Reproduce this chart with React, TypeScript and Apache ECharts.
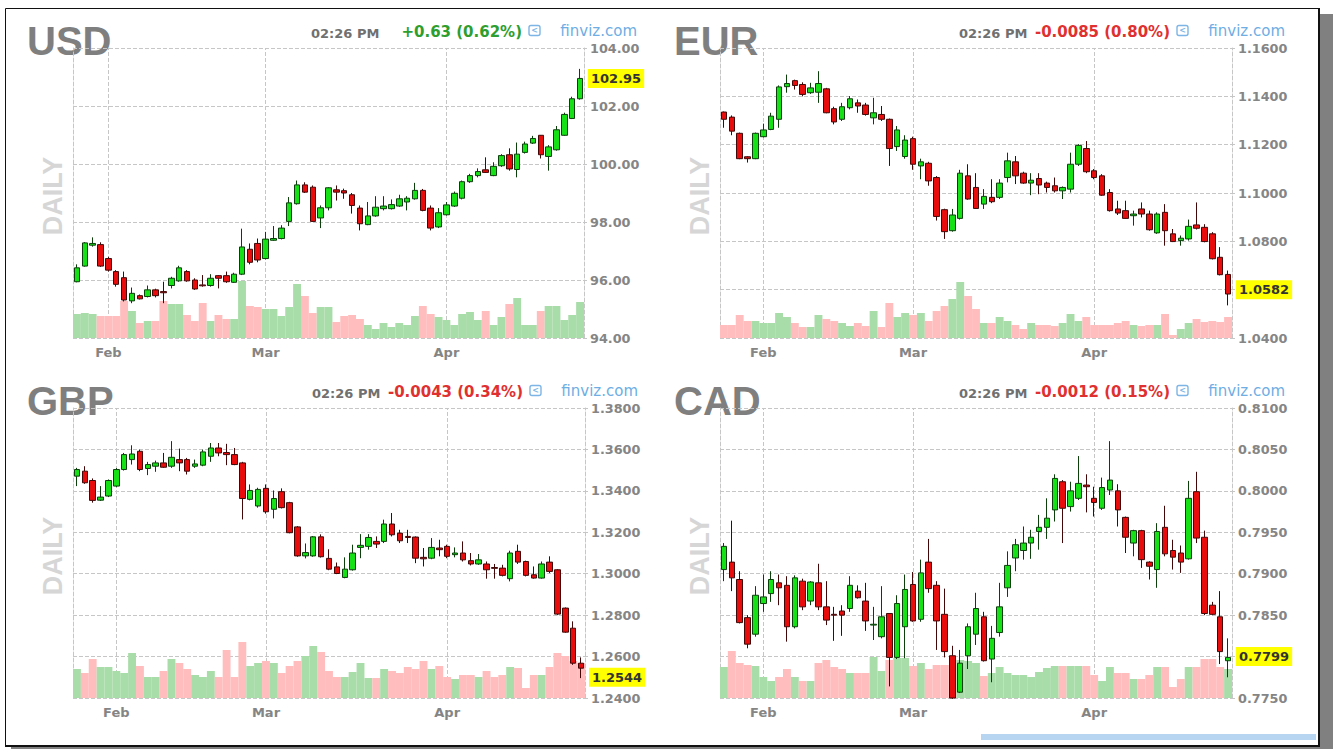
import React, { useEffect, useRef } from "react";
import * as echarts from "echarts";

// ---------- categories ----------
const MONTHS = ["Jan", "Feb", "Mar", "Apr", "May", "Jun", "Jul", "Aug", "Sep", "Oct", "Nov", "Dec"];

function tradingDays(start: string, end: string, skip: string[]): string[] {
  const out: string[] = [];
  const d = new Date(start + "T00:00:00Z");
  const e = new Date(end + "T00:00:00Z");
  while (d <= e) {
    const wd = d.getUTCDay();
    const s = d.toISOString().slice(0, 10);
    if (wd !== 0 && wd !== 6 && !skip.includes(s)) out.push(s);
    d.setUTCDate(d.getUTCDate() + 1);
  }
  return out;
}
const usdDays = tradingDays("2022-01-26", "2022-04-26", []);
const fxDays = tradingDays("2022-01-25", "2022-04-26", ["2022-02-21"]);

// ---------- data: [open, high, low, close] ----------
const usdOHLC = [
  [95.94, 96.54, 95.92, 96.42], [96.48, 97.31, 96.46, 97.28], [97.2, 97.47, 97.15, 97.26], [97.22, 97.3, 96.45, 96.48],
  [96.74, 96.8, 96.29, 96.34], [96.29, 96.34, 95.77, 95.85], [96.08, 96.29, 95.26, 95.31], [95.28, 95.74, 95.2, 95.54],
  [95.46, 95.5, 95.33, 95.35], [95.43, 95.81, 95.4, 95.66], [95.66, 95.7, 95.4, 95.46], [95.6, 95.94, 95.2, 95.56],
  [95.81, 96.11, 95.71, 96.06], [95.97, 96.49, 95.94, 96.42], [96.29, 96.34, 95.94, 95.97], [96.0, 96.06, 95.66, 95.69],
  [95.83, 96.17, 95.77, 95.8], [95.81, 96.2, 95.77, 96.06], [96.15, 96.17, 95.71, 96.06], [96.15, 96.29, 95.9, 95.94],
  [95.92, 96.25, 95.9, 96.2], [96.2, 97.77, 96.17, 97.14], [97.06, 97.26, 96.54, 96.61], [97.26, 97.43, 96.61, 96.69],
  [96.74, 97.66, 96.71, 97.41], [97.37, 97.86, 97.35, 97.43], [97.43, 97.89, 97.4, 97.79], [98.02, 98.86, 97.86, 98.66],
  [98.63, 99.43, 98.6, 99.28], [99.28, 99.37, 99.0, 99.03], [99.2, 99.26, 98.0, 98.02], [98.14, 98.57, 97.79, 98.49],
  [98.49, 99.2, 98.4, 99.18], [99.11, 99.26, 98.74, 99.03], [99.08, 99.15, 98.8, 99.0], [98.94, 99.0, 98.29, 98.57],
  [98.48, 98.57, 97.71, 97.94], [97.91, 98.69, 97.89, 98.21], [98.21, 98.89, 98.18, 98.51], [98.46, 98.89, 98.4, 98.55],
  [98.46, 98.78, 98.43, 98.6], [98.55, 98.94, 98.52, 98.8], [98.69, 98.89, 98.4, 98.82], [98.8, 99.35, 98.77, 99.09],
  [99.09, 99.14, 98.37, 98.4], [98.48, 98.57, 97.71, 97.79], [97.83, 98.48, 97.79, 98.32], [98.25, 98.69, 98.22, 98.59],
  [98.55, 99.05, 98.52, 98.99], [98.82, 99.43, 98.78, 99.39], [99.39, 99.66, 99.35, 99.6], [99.6, 99.85, 99.54, 99.74],
  [99.8, 100.23, 99.69, 99.71], [99.6, 100.06, 99.58, 99.92], [99.94, 100.34, 99.9, 100.29], [100.32, 100.54, 99.77, 99.83],
  [99.81, 100.74, 99.54, 100.34], [100.4, 100.77, 100.36, 100.69], [100.72, 100.97, 100.69, 100.88], [100.99, 101.0, 100.19, 100.32],
  [100.26, 100.65, 99.77, 100.59], [100.49, 101.31, 100.46, 101.18], [100.99, 101.77, 100.97, 101.71], [101.57, 102.32, 101.55, 102.25],
  [102.25, 103.28, 102.22, 102.95],
];
const usdVol = [
  24, 25, 24, 22, 22, 22, 37, 27, 15, 17, 17, 37, 34, 34, 23, 17, 35, 17, 23, 19, 19, 57, 32, 31, 29, 29, 22, 31, 54, 42, 25, 31, 31, 16, 22,
  23, 19, 13, 9, 15, 11, 15, 13, 22, 32, 24, 21, 18, 13, 24, 26, 18, 27, 13, 21, 34, 40, 13, 13, 27, 32, 32, 18, 23, 36,
];

const eurOHLC = [
  [1.1335, 1.1337, 1.127, 1.1305], [1.1314, 1.1321, 1.1239, 1.1256], [1.1247, 1.125, 1.114, 1.1142], [1.115, 1.1152, 1.1126, 1.1142],
  [1.1142, 1.125, 1.114, 1.1247], [1.1233, 1.1287, 1.123, 1.1261], [1.1263, 1.1332, 1.126, 1.1318], [1.1305, 1.1445, 1.127, 1.1439],
  [1.144, 1.149, 1.1415, 1.1453], [1.1465, 1.1469, 1.1428, 1.1445], [1.1449, 1.1458, 1.14, 1.1408], [1.1415, 1.1456, 1.141, 1.1435],
  [1.1417, 1.1504, 1.1373, 1.1453], [1.1431, 1.1435, 1.133, 1.1332], [1.1349, 1.1357, 1.1284, 1.1294], [1.1305, 1.1373, 1.1298, 1.1357],
  [1.1353, 1.1401, 1.1346, 1.139], [1.1373, 1.1387, 1.1332, 1.136], [1.1364, 1.1373, 1.132, 1.1325], [1.1311, 1.1394, 1.1284, 1.1332],
  [1.1325, 1.136, 1.1298, 1.1305], [1.1305, 1.1308, 1.1112, 1.1184], [1.1192, 1.1277, 1.1174, 1.1261], [1.1151, 1.1239, 1.1142, 1.1219],
  [1.1225, 1.1233, 1.1096, 1.1119], [1.1112, 1.1142, 1.1057, 1.1129], [1.1123, 1.1129, 1.103, 1.105], [1.1064, 1.107, 1.0886, 1.0903],
  [1.0931, 1.0935, 1.081, 1.084], [1.0844, 1.0934, 1.084, 1.0909], [1.0895, 1.1096, 1.089, 1.1082], [1.1071, 1.1119, 1.0972, 1.0975],
  [1.1023, 1.1082, 1.0934, 1.0936], [1.0954, 1.1016, 1.0934, 1.0986], [1.0982, 1.1057, 1.0958, 1.0964], [1.0982, 1.1057, 1.0975, 1.1041],
  [1.1064, 1.1167, 1.1044, 1.1133], [1.1129, 1.1153, 1.1037, 1.1071], [1.1082, 1.1088, 1.1038, 1.1041], [1.1041, 1.1082, 1.0991, 1.1053],
  [1.106, 1.1082, 1.0995, 1.1033], [1.1041, 1.1047, 1.1002, 1.1023], [1.103, 1.1064, 1.1002, 1.1009], [1.1009, 1.1027, 1.0975, 1.1023],
  [1.1016, 1.1167, 1.1002, 1.1119], [1.1119, 1.1202, 1.1112, 1.1197], [1.1184, 1.1215, 1.1082, 1.1088], [1.1092, 1.1099, 1.1057, 1.1064],
  [1.1071, 1.1078, 1.0988, 1.0991], [1.1002, 1.1016, 1.0923, 1.0927], [1.0934, 1.0968, 1.0909, 1.0917], [1.0927, 1.0968, 1.0893, 1.0895],
  [1.0906, 1.0927, 1.0865, 1.0913], [1.0934, 1.0961, 1.0899, 1.0913], [1.0913, 1.0927, 1.0844, 1.0848], [1.0835, 1.092, 1.0831, 1.0913],
  [1.092, 1.0954, 1.0782, 1.0844], [1.0831, 1.0851, 1.0797, 1.0799], [1.0803, 1.0824, 1.0782, 1.0813], [1.081, 1.089, 1.0803, 1.0862],
  [1.0868, 1.0961, 1.0849, 1.0854], [1.0858, 1.0871, 1.0796, 1.0799], [1.0831, 1.0838, 1.0725, 1.0728], [1.0734, 1.0776, 1.0659, 1.0662],
  [1.0663, 1.0679, 1.0535, 1.0582],
];
const eurVol = [
  13, 13, 23, 17, 17, 15, 15, 25, 21, 15, 11, 11, 23, 19, 17, 15, 12, 15, 12, 27, 11, 35, 21, 25, 23, 25, 17, 27, 32, 39, 56, 42, 29, 15, 15,
  21, 17, 13, 9, 15, 13, 13, 12, 15, 24, 17, 21, 13, 13, 13, 15, 17, 13, 12, 13, 13, 24, 3, 9, 15, 19, 16, 17, 16, 21,
];

const gbpOHLC = [
  [1.3471, 1.3511, 1.3423, 1.3503], [1.3495, 1.3519, 1.3434, 1.3439], [1.345, 1.346, 1.3343, 1.3354], [1.3355, 1.3423, 1.3351, 1.337],
  [1.3375, 1.3455, 1.337, 1.345], [1.3423, 1.351, 1.3418, 1.3503], [1.3503, 1.3583, 1.3498, 1.3575], [1.3551, 1.362, 1.3527, 1.3578],
  [1.3591, 1.3599, 1.3495, 1.3503], [1.3508, 1.354, 1.3476, 1.3527], [1.3519, 1.3546, 1.3492, 1.3535], [1.3535, 1.3583, 1.3511, 1.3514],
  [1.3519, 1.364, 1.3511, 1.3562], [1.3551, 1.3604, 1.3495, 1.3535], [1.3551, 1.3559, 1.3479, 1.3495], [1.3519, 1.3551, 1.3511, 1.353],
  [1.3524, 1.3599, 1.3519, 1.3588], [1.3567, 1.3631, 1.354, 1.3607], [1.3607, 1.3631, 1.3567, 1.3583], [1.3585, 1.3627, 1.3524, 1.3575],
  [1.3575, 1.3607, 1.3524, 1.3527], [1.3535, 1.354, 1.3262, 1.3363], [1.3359, 1.3431, 1.3354, 1.3402], [1.3327, 1.3415, 1.3319, 1.3407],
  [1.3412, 1.3431, 1.329, 1.3299], [1.3311, 1.3402, 1.3267, 1.3363], [1.3396, 1.3412, 1.3315, 1.3319], [1.3343, 1.3347, 1.3195, 1.3198],
  [1.3226, 1.323, 1.3082, 1.3086], [1.3086, 1.3146, 1.3074, 1.3102], [1.3086, 1.3182, 1.3082, 1.3178], [1.3178, 1.319, 1.3078, 1.3082],
  [1.3074, 1.3118, 1.3017, 1.3022], [1.3033, 1.3054, 1.2998, 1.3001], [1.2982, 1.3079, 1.2978, 1.3022], [1.3019, 1.314, 1.3015, 1.31],
  [1.3127, 1.3191, 1.3075, 1.3137], [1.3132, 1.3191, 1.3116, 1.3175], [1.3156, 1.318, 1.3124, 1.3143], [1.3156, 1.3261, 1.3148, 1.324],
  [1.324, 1.3293, 1.318, 1.3188], [1.3196, 1.3212, 1.3148, 1.3159], [1.318, 1.3212, 1.3148, 1.3175], [1.3177, 1.318, 1.3051, 1.3075],
  [1.3079, 1.3124, 1.3035, 1.3072], [1.3075, 1.3172, 1.307, 1.3127], [1.3124, 1.3164, 1.3084, 1.3116], [1.3132, 1.314, 1.3075, 1.3084],
  [1.3092, 1.3127, 1.3079, 1.31], [1.31, 1.3156, 1.3059, 1.3067], [1.3063, 1.31, 1.304, 1.3047], [1.3047, 1.3095, 1.3043, 1.3067],
  [1.3047, 1.3059, 1.2976, 1.3019], [1.303, 1.3047, 1.2976, 1.3026], [1.3027, 1.3043, 1.2987, 1.2992], [1.2976, 1.3111, 1.2963, 1.31],
  [1.3108, 1.314, 1.3047, 1.3056], [1.3059, 1.3063, 1.2987, 1.2992], [1.2995, 1.3035, 1.2976, 1.2979], [1.2979, 1.3059, 1.2976, 1.3047],
  [1.3056, 1.3084, 1.3003, 1.3011], [1.3019, 1.3022, 1.28, 1.2805], [1.2834, 1.2837, 1.2715, 1.2718], [1.2737, 1.277, 1.256, 1.2568],
  [1.2568, 1.2596, 1.2496, 1.2544],
];
const gbpVol = [
  29, 25, 39, 31, 31, 27, 25, 45, 32, 21, 21, 27, 39, 35, 29, 23, 21, 27, 21, 48, 21, 56, 32, 35, 37, 35, 25, 32, 37, 42, 52, 46, 27, 21, 21,
  26, 35, 20, 20, 29, 27, 25, 31, 29, 37, 29, 32, 21, 19, 23, 23, 21, 27, 21, 23, 31, 30, 10, 23, 23, 31, 45, 42, 37, 35,
];

const cadOHLC = [
  [0.7905, 0.7937, 0.7891, 0.7933], [0.7914, 0.7964, 0.7879, 0.7895], [0.7893, 0.7903, 0.784, 0.7841], [0.7847, 0.785, 0.781, 0.7815],
  [0.7827, 0.7885, 0.7824, 0.7874], [0.7864, 0.7899, 0.7854, 0.7872], [0.7876, 0.7903, 0.7866, 0.7893], [0.7889, 0.7899, 0.7862, 0.7883],
  [0.7886, 0.7897, 0.7818, 0.7836], [0.7836, 0.7898, 0.7834, 0.7895], [0.7891, 0.7894, 0.7856, 0.786], [0.7867, 0.7891, 0.7862, 0.789],
  [0.7889, 0.7912, 0.7856, 0.786], [0.786, 0.7891, 0.7838, 0.7844], [0.7851, 0.786, 0.7819, 0.785], [0.7855, 0.7862, 0.7825, 0.785],
  [0.7858, 0.7897, 0.7854, 0.7886], [0.7879, 0.7886, 0.787, 0.7871], [0.7867, 0.7889, 0.7831, 0.7843], [0.7838, 0.786, 0.782, 0.7839],
  [0.7824, 0.7885, 0.7822, 0.7848], [0.7852, 0.7852, 0.7764, 0.7799], [0.7799, 0.7874, 0.7797, 0.7864], [0.7836, 0.7899, 0.7798, 0.7881],
  [0.7887, 0.7902, 0.7842, 0.7843], [0.7845, 0.7917, 0.7842, 0.7901], [0.7914, 0.7942, 0.7877, 0.7882], [0.7886, 0.7891, 0.7808, 0.7843],
  [0.7851, 0.7882, 0.7799, 0.7806], [0.7801, 0.7813, 0.7749, 0.775], [0.7757, 0.7808, 0.7756, 0.7792], [0.7801, 0.784, 0.7785, 0.7836],
  [0.7827, 0.7877, 0.7814, 0.7858], [0.7848, 0.7854, 0.7794, 0.7795], [0.7797, 0.7837, 0.7769, 0.7822], [0.7829, 0.7889, 0.7824, 0.786],
  [0.7883, 0.7927, 0.7872, 0.791], [0.7919, 0.7942, 0.7903, 0.7935], [0.7928, 0.7957, 0.7917, 0.7937], [0.7937, 0.7953, 0.7918, 0.7944],
  [0.7951, 0.7971, 0.7929, 0.7956], [0.7956, 0.7991, 0.7942, 0.7967], [0.7977, 0.802, 0.7963, 0.8015], [0.8011, 0.8013, 0.7937, 0.7979],
  [0.7981, 0.8011, 0.7975, 0.8], [0.7991, 0.8042, 0.7989, 0.8009], [0.8007, 0.802, 0.7974, 0.8005], [0.7991, 0.8005, 0.7969, 0.7986],
  [0.7979, 0.8016, 0.7977, 0.8004], [0.8001, 0.806, 0.7995, 0.8013], [0.8, 0.8008, 0.7957, 0.7977], [0.7968, 0.7969, 0.7925, 0.7944],
  [0.7937, 0.7953, 0.7921, 0.7952], [0.7952, 0.7953, 0.7907, 0.7917], [0.7914, 0.7915, 0.7893, 0.7909], [0.7905, 0.7961, 0.7883, 0.7951],
  [0.7956, 0.7982, 0.7921, 0.7924], [0.7928, 0.7941, 0.7905, 0.792], [0.7925, 0.7934, 0.7901, 0.7914], [0.7918, 0.8012, 0.7917, 0.7991],
  [0.7999, 0.8023, 0.7937, 0.7943], [0.7944, 0.7952, 0.785, 0.7852], [0.7862, 0.7866, 0.785, 0.7851], [0.7848, 0.7879, 0.7791, 0.7806],
  [0.7795, 0.7822, 0.7775, 0.7799],
];
const cadVol = [
  31, 47, 35, 33, 32, 21, 17, 21, 29, 21, 17, 17, 35, 38, 31, 29, 25, 25, 25, 41, 27, 38, 40, 40, 32, 35, 29, 33, 33, 33, 38, 37, 35, 22,
  25, 31, 25, 23, 23, 21, 26, 30, 32, 32, 32, 32, 32, 23, 17, 31, 25, 25, 19, 19, 23, 31, 31, 11, 19, 31, 31, 39, 39, 31, 29,
];

// ---------- layout ----------
const PANELS = [
  { title: "USD", days: usdDays, ohlc: usdOHLC, vol: usdVol, min: 94, max: 104, step: 2, dec: 2, change: "+0.63 (0.62%)", up: true, left: 73, top: 48, width: 511 },
  { title: "EUR", days: fxDays, ohlc: eurOHLC, vol: eurVol, min: 1.04, max: 1.16, step: 0.02, dec: 4, change: "-0.0085 (0.80%)", up: false, left: 720, top: 48, width: 512 },
  { title: "GBP", days: fxDays, ohlc: gbpOHLC, vol: gbpVol, min: 1.24, max: 1.38, step: 0.02, dec: 4, change: "-0.0043 (0.34%)", up: false, left: 73, top: 408, width: 512 },
  { title: "CAD", days: fxDays, ohlc: cadOHLC, vol: cadVol, min: 0.775, max: 0.81, step: 0.005, dec: 4, change: "-0.0012 (0.15%)", up: false, left: 720, top: 408, width: 512 },
];
const PLOT_H = 290;
const GRID_COLOR = "#c6c6c6";
const AXIS_TEXT = "#858585";
const SANS = "DejaVu Sans";
const ARIAL = "Liberation Sans";

function monthStarts(days: string[]): number[] {
  const r: number[] = [];
  for (let k = 1; k < days.length; k++) if (days[k].slice(5, 7) !== days[k - 1].slice(5, 7)) r.push(k);
  return r;
}

function buildOption() {
  const grid: any[] = [];
  const xAxis: any[] = [];
  const yAxis: any[] = [];
  const series: any[] = [];
  const graphic: any[] = [];

  // frame + shadow
  graphic.push({ type: "rect", silent: true, shape: { x: 1320, y: 14, width: 13, height: 735 }, style: { fill: "#808080" } });
  graphic.push({ type: "rect", silent: true, shape: { x: 11, y: 747, width: 1322, height: 2 }, style: { fill: "#808080" } });
  graphic.push({ type: "rect", silent: true, shape: { x: 5.5, y: 8.5, width: 1313, height: 737 }, style: { fill: "none", stroke: "#111", lineWidth: 1 } });
  graphic.push({ type: "line", silent: true, shape: { x1: 1319, y1: 8, x2: 1319, y2: 747 }, style: { stroke: "#111", lineWidth: 2 } });
  graphic.push({ type: "line", silent: true, shape: { x1: 5, y1: 746, x2: 1320, y2: 746 }, style: { stroke: "#111", lineWidth: 2 } });
  graphic.push({ type: "rect", silent: true, shape: { x: 981, y: 734, width: 335, height: 6 }, style: { fill: "#b7d5f0" } });

  PANELS.forEach((p, i) => {
    const R = p.left + p.width;
    const starts = monthStarts(p.days);
    grid.push({ left: p.left, top: p.top, width: p.width, height: PLOT_H, containLabel: false });
    xAxis.push({
      gridIndex: i,
      type: "category",
      data: p.days,
      boundaryGap: true,
      axisLine: { show: false },
      axisTick: { show: false },
      splitLine: { show: false },
      axisLabel: {
        interval: (idx: number) => starts.includes(idx),
        formatter: (v: string) => MONTHS[Number(v.slice(5, 7)) - 1],
        color: AXIS_TEXT,
        fontFamily: SANS,
        fontWeight: "bold",
        fontSize: 13,
        margin: 8,
      },
    });
    yAxis.push({
      gridIndex: i,
      type: "value",
      position: "right",
      min: p.min,
      max: p.max,
      interval: p.step,
      axisLine: { show: true, lineStyle: { color: GRID_COLOR, type: "dashed" } },
      axisTick: { show: true, length: 3, lineStyle: { color: GRID_COLOR } },
      axisLabel: {
        formatter: (v: number) => v.toFixed(p.dec),
        color: AXIS_TEXT,
        fontFamily: SANS,
        fontWeight: "bold",
        fontSize: 12.8,
        margin: 6,
      },
      splitLine: { show: true, lineStyle: { color: GRID_COLOR, type: "dashed" } },
    });
    yAxis.push({
      gridIndex: i,
      type: "value",
      position: "left",
      min: 0,
      max: PLOT_H,
      axisLine: { show: true, lineStyle: { color: GRID_COLOR, type: "dashed" } },
      axisTick: { show: false },
      axisLabel: { show: false },
      splitLine: { show: false },
    });

    const last = p.ohlc[p.ohlc.length - 1][3];
    series.push({
      type: "bar",
      name: p.title + " volume",
      xAxisIndex: i,
      yAxisIndex: 2 * i + 1,
      barCategoryGap: "0%",
      z: 2,
      data: p.vol.map((v, j) => ({
        value: v,
        itemStyle: { color: p.ohlc[j][3] >= p.ohlc[j][0] ? "#a8dca8" : "#ffbdbd" },
      })),
      markLine: {
        silent: true,
        symbol: "none",
        z: 1,
        label: { show: false },
        lineStyle: { color: GRID_COLOR, type: "dashed", width: 1 },
        data: starts.map((k) => ({ xAxis: p.days[k] })),
      },
    });
    series.push({
      type: "candlestick",
      name: p.title,
      xAxisIndex: i,
      yAxisIndex: 2 * i,
      barWidth: 6,
      z: 3,
      data: p.ohlc.map(([o, h, l, c]) => [o, c, l, h]),
      itemStyle: {
        color: "#16e016",
        color0: "#e80c0c",
        borderColor: "#0b3f0b",
        borderColor0: "#420808",
        borderWidth: 1,
      },
      markLine: {
        silent: true,
        symbol: "none",
        lineStyle: { color: "rgba(0,0,0,0)", width: 1, type: "solid" },
        label: {
          show: true,
          position: "end",
          distance: 4,
          formatter: () => last.toFixed(p.dec),
          backgroundColor: "#ffff00",
          color: "#333333",
          fontFamily: SANS,
          fontWeight: "bold",
          fontSize: 13,
          padding: [3, 3, 3, 3],
        },
        data: [{ yAxis: last }],
      },
    });

    // texts
    const dy = p.top - 48;
    graphic.push({
      type: "text", silent: true, x: p.left - 46, y: 41 + dy,
      style: { text: p.title, fill: "#7f7f7f", fontFamily: ARIAL, fontWeight: "bold", fontSize: 40, align: "left", verticalAlign: "middle" },
    });
    graphic.push({
      type: "text", silent: true, x: p.left - 20, y: 196 + dy, rotation: Math.PI / 2,
      style: { text: "DAILY", fill: "#d6d6d6", fontFamily: ARIAL, fontWeight: "bold", fontSize: 27, align: "center", verticalAlign: "middle" },
    });
    graphic.push({
      type: "text", silent: true, x: R - 273, y: 33 + dy,
      style: { text: "02:26 PM", fill: "#707070", fontFamily: SANS, fontWeight: "bold", fontSize: 13, align: "left", verticalAlign: "middle" },
    });
    graphic.push({
      type: "text", silent: true, x: R - 62, y: 31.5 + dy,
      style: { text: p.change, fill: p.up ? "#2e9e2e" : "#e03030", fontFamily: SANS, fontWeight: "bold", fontSize: 15, align: "right", verticalAlign: "middle" },
    });
    graphic.push({
      type: "rect", silent: true, shape: { x: R - 55, y: 25.5 + dy, width: 11, height: 10, r: 2 },
      style: { fill: "none", stroke: "#7db5e6", lineWidth: 1.4 },
    });
    graphic.push({
      type: "text", silent: true, x: R - 49.5, y: 30.5 + dy,
      style: { text: "<", fill: "#7db5e6", fontFamily: SANS, fontWeight: "bold", fontSize: 8, align: "center", verticalAlign: "middle" },
    });
    graphic.push({
      type: "text", silent: true, x: R + 53, y: 31 + dy,
      style: { text: "finviz.com", fill: "#6eaee4", fontFamily: SANS, fontSize: 15, align: "right", verticalAlign: "middle" },
    });
  });

  return {
    animation: false,
    backgroundColor: "#ffffff",
    grid,
    xAxis,
    yAxis,
    series,
    graphic,
  };
}

export default function App() {
  const ref = useRef<HTMLDivElement>(null);
  useEffect(() => {
    if (!ref.current) return;
    const chart = echarts.init(ref.current, null, { renderer: "svg" });
    chart.setOption(buildOption() as any);
    return () => chart.dispose();
  }, []);
  return (
    <div
      ref={ref}
      style={{ position: "fixed", left: 0, top: 0, width: 1333, height: 749, background: "#fff" }}
    />
  );
}
